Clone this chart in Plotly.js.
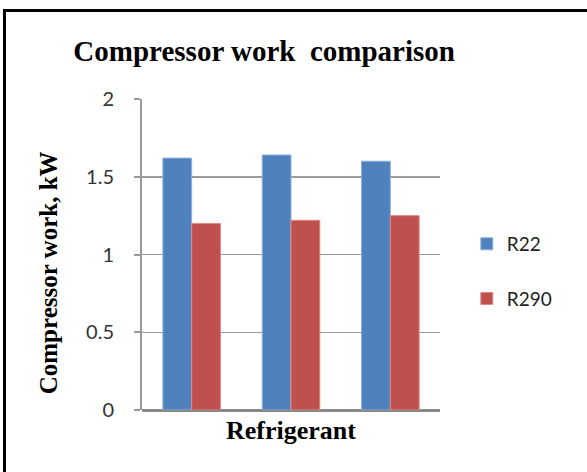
<!DOCTYPE html>
<html>
<head>
<meta charset="utf-8">
<script src="https://cdn.plot.ly/plotly-3.0.1.min.js"></script>
<style>
  html, body { margin: 0; padding: 0; background: #fff; }
  #wrap { position: relative; width: 587px; height: 472px; overflow: hidden; }
  #chart { position: absolute; left: 0; top: 0; width: 587px; height: 472px; }
  #frame { position: absolute; left: 3px; top: 9px; width: 600px; height: 480px;
           border-top: 3px solid #000; border-left: 3px solid #000; pointer-events: none; }
</style>
</head>
<body>
<div id="wrap">
  <div id="chart"></div>
  <div id="frame"></div>
</div>
<script>
const categories = ["A", "B", "C"];
const seriesNames = ["R22", "R290"];
const r22Values = [1.62, 1.64, 1.60];
const r290Values = [1.20, 1.22, 1.25];
const yTickValues = [0, 0.5, 1, 1.5, 2];
const yTickLabels = ["0", "0.5", "1", "1.5", "2"];
const yTitle = "Compressor work, kW";

const colors = ["#4F81BD", "#C0504D"];
const edge = ["#8FB2DD", "#E08A87"];

const traces = [r22Values, r290Values].map((vals, i) => ({
  type: "bar",
  name: seriesNames[i],
  x: categories,
  y: vals,
  legendgroup: "g" + i,
  marker: { color: colors[i], line: { color: edge[i], width: 1 } },
  hoverinfo: "skip"
}));

const serif = "'Liberation Serif', 'Times New Roman', serif";
const sans = "Lato, 'Liberation Sans', sans-serif";

const layout = {
  width: 587,
  height: 472,
  paper_bgcolor: "#fff",
  plot_bgcolor: "#fff",
  margin: { l: 142, r: 147, t: 99, b: 62 },
  barmode: "group",
  bargap: 0.42,
  bargroupgap: 0,
  showlegend: true,
  legend: {
    x: 1.09, xanchor: "left",
    y: 0.595, yanchor: "top",
    font: { family: sans, size: 19, color: "#222" },
    tracegroupgap: 27,
    itemwidth: 30,
    bgcolor: "rgba(0,0,0,0)"
  },
  title: {
    text: "<b>Compressor work  comparison</b>",
    font: { family: serif, size: 29, color: "#000" },
    xref: "container", x: 0.45, xanchor: "center",
    yref: "container", y: 0.892, yanchor: "middle"
  },
  annotations: [{
    text: "<b>" + yTitle + "</b>",
    textangle: -90,
    xref: "paper", yref: "paper",
    x: -0.315, y: 0.44,
    xanchor: "center", yanchor: "middle",
    showarrow: false,
    font: { family: serif, size: 25, color: "#000" }
  }],
  xaxis: {
    type: "category",
    showticklabels: false,
    ticks: "",
    showgrid: false,
    showline: false,
    zeroline: false,
    title: {
      text: "<b>Refrigerant</b>",
      font: { family: serif, size: 26, color: "#000" },
      standoff: 10
    }
  },
  yaxis: {
    range: [0, 2],
    tickvals: yTickValues,
    ticktext: yTickLabels,
    tickfont: { family: sans, size: 20, color: "#333" },
    ticks: "outside",
    ticklen: 6,
    tickwidth: 2,
    tickcolor: "#9a9a9a",
    ticklabelstandoff: 16,
    showgrid: true,
    gridcolor: "#9a9a9a",
    gridwidth: 1.5,
    showline: true,
    linecolor: "#9a9a9a",
    linewidth: 2,
    zeroline: true,
    zerolinecolor: "#888",
    zerolinewidth: 3
  }
};

Plotly.newPlot("chart", traces, layout, { staticPlot: true, displayModeBar: false });
</script>
</body>
</html>
